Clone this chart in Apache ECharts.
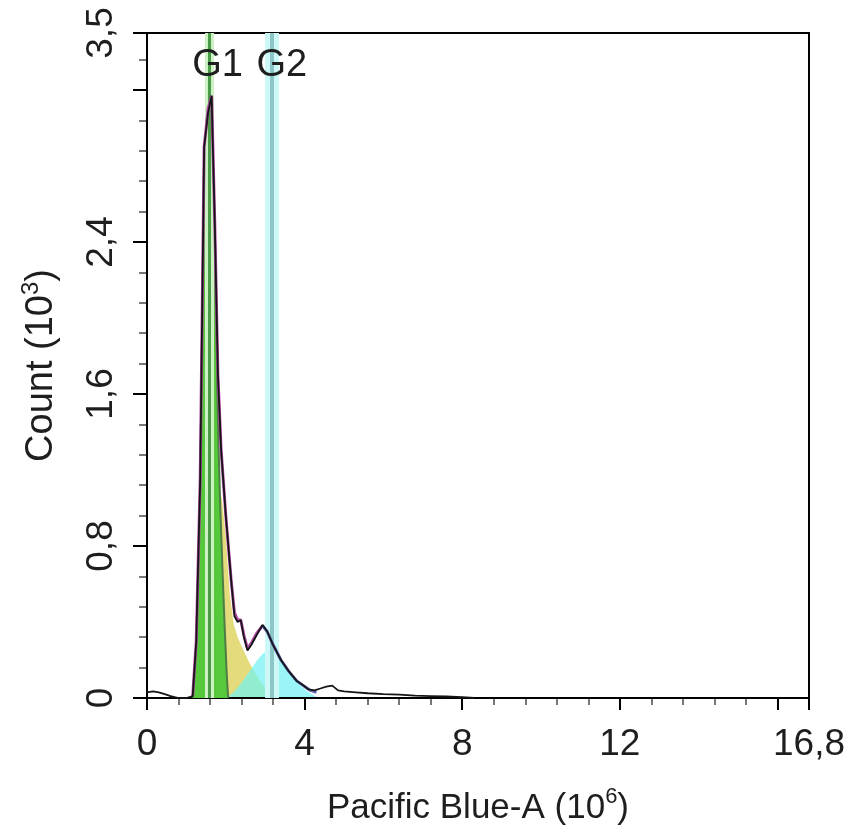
<!DOCTYPE html>
<html><head><meta charset="utf-8">
<script src="https://cdn.jsdelivr.net/npm/echarts@6/dist/echarts.min.js"></script>
<style>html,body{margin:0;padding:0;background:#fff}#c{width:848px;height:834px}</style>
</head><body><div id="c"></div>
<script>
// ---- data (x in 10^6 Pacific Blue-A units, y in 10^3 counts) ----
const xAxisTitle = 'Pacific Blue-A (10';
const xAxisExp = '6';
const yAxisTitle = 'Count (10';
const yAxisExp = '3';
const xMax = 16.8, xMajor = 4, xMinor = 0.8;
const yMax = 3.5, yMajor = 0.8, yMinor = 0.16;
const hiddenXLabels = [16];
const hiddenYLabels = [3.2];

// measured histogram (black outline)
const histogram = [[0,0.03],[0.15,0.035],[0.3,0.03],[0.45,0.02],[0.6,0.01],[0.8,0],[1.0,0],[1.16,0.01],[1.25,0.3],[1.35,1.15],[1.45,2.9],[1.55,3.08],[1.64,3.17],[1.72,2.5],[1.8,1.7],[1.88,1.31],[2.0,0.96],[2.14,0.61],[2.22,0.43],[2.3,0.40],[2.38,0.41],[2.46,0.32],[2.55,0.25],[2.65,0.28],[2.78,0.33],[2.93,0.385],[3.05,0.35],[3.2,0.28],[3.4,0.2],[3.6,0.14],[3.8,0.09],[3.95,0.07],[4.1,0.045],[4.25,0.04],[4.4,0.05],[4.55,0.06],[4.7,0.065],[4.85,0.04],[5.0,0.035],[5.3,0.03],[5.6,0.025],[6.0,0.02],[6.4,0.018],[6.8,0.012],[7.2,0.01],[7.6,0.008],[8.0,0.005],[8.3,0]];
// fitted G1 component (green)
const g1Component = [[1.16,0],[1.25,0.28],[1.35,1.1],[1.45,2.85],[1.55,3.05],[1.63,3.15],[1.72,2.4],[1.8,1.45],[1.86,1.0],[1.92,0.65],[1.97,0.38],[2.02,0.14],[2.06,0]];
// fitted S-phase component (yellow)
const sComponent = [[1.55,0],[1.68,0.7],[1.8,1.1],[1.9,1.05],[2.0,0.85],[2.1,0.55],[2.2,0.39],[2.3,0.32],[2.45,0.25],[2.6,0.185],[2.75,0.13],[2.9,0.08],[3.05,0.045],[3.2,0.02],[3.35,0]];
// fitted G2 component (cyan)
const g2Component = [[2.0,0],[2.2,0.03],[2.4,0.08],[2.6,0.14],[2.8,0.2],[2.95,0.235],[3.1,0.25],[3.25,0.24],[3.4,0.195],[3.6,0.135],[3.8,0.085],[3.95,0.055],[4.1,0.03],[4.25,0.012],[4.4,0]];
// model sum line (magenta) and G2 side of the model (slate)
const fitCurve = [[1.16,0.01],[1.25,0.3],[1.35,1.15],[1.45,2.9],[1.55,3.1],[1.64,3.17],[1.72,2.5],[1.8,1.7],[1.88,1.31],[2.0,0.96],[2.14,0.61],[2.22,0.45],[2.3,0.41],[2.38,0.41],[2.46,0.33],[2.55,0.26],[2.65,0.29],[2.78,0.34],[2.93,0.38]];
const fitTail = [[2.93,0.38],[3.05,0.35],[3.2,0.28],[3.4,0.2],[3.6,0.14],[3.8,0.09],[4.0,0.06],[4.15,0.04],[4.3,0.03]];
// gate markers
const gateNames = ['G1','G2'];
const gatePositions = [1.59, 3.16];
const gateLabelPositions = [[1.79,3.33],[3.42,3.33]];

// ---- chart ----
const FONT = '"Liberation Sans", Arial, sans-serif';
const fmt = v => String(+v.toFixed(2)).replace('.', ',');
const near = (a, b) => Math.abs(a - b) < 1e-6;

const chart = echarts.init(document.getElementById('c'), null, {renderer: 'canvas'});
const option = {
  animation: false,
  backgroundColor: '#fff',
  grid: {left: 147, right: 35, top: 33, bottom: 136, show: true, borderColor: '#000', borderWidth: 2, backgroundColor: 'transparent'},
  xAxis: [{
    type: 'value', min: 0, max: xMax, interval: xMajor, z: 3,
    axisLine: {show: true, onZero: false, lineStyle: {color: '#000', width: 2}},
    axisTick: {show: true, length: 12, lineStyle: {color: '#000', width: 2}},
    splitLine: {show: false},
    axisLabel: {showMaxLabel: true, showMinLabel: true, margin: 28, fontSize: 37, fontFamily: FONT, color: '#1e1e1e',
      formatter: v => hiddenXLabels.some(h => near(h, v)) ? '' : fmt(v)},
    name: '{a|' + xAxisTitle + '}{s|' + xAxisExp + '}{a|)}', nameLocation: 'middle', nameGap: 88,
    nameTextStyle: {rich: {a: {fontSize: 35, fontFamily: FONT, color: '#1e1e1e', lineHeight: 40, verticalAlign: 'bottom'},
                          s: {fontSize: 22, fontFamily: FONT, color: '#1e1e1e', lineHeight: 40, verticalAlign: 'top'}}}
  }, {
    type: 'value', min: 0, max: xMax, interval: xMinor, z: 2, position: 'bottom',
    axisLine: {show: false}, axisLabel: {show: false}, splitLine: {show: false},
    axisTick: {show: true, length: 7, lineStyle: {color: '#777', width: 2}}
  }],
  yAxis: [{
    type: 'value', min: 0, max: yMax, interval: yMajor, z: 3,
    axisLine: {show: true, onZero: false, lineStyle: {color: '#000', width: 2}},
    axisTick: {show: true, length: 14, lineStyle: {color: '#000', width: 2}},
    splitLine: {show: false},
    axisLabel: {showMaxLabel: true, showMinLabel: true, rotate: 90, margin: 27, fontSize: 37, fontFamily: FONT, color: '#1e1e1e',
      formatter: v => hiddenYLabels.some(h => near(h, v)) ? '' : fmt(v)},
    name: '{a|' + yAxisTitle + '}{s|' + yAxisExp + '}{a|)}', nameLocation: 'middle', nameGap: 86, nameRotate: 90,
    nameTextStyle: {rich: {a: {fontSize: 38, fontFamily: FONT, color: '#1e1e1e', lineHeight: 42, verticalAlign: 'bottom'},
                          s: {fontSize: 24, fontFamily: FONT, color: '#1e1e1e', lineHeight: 42, verticalAlign: 'top'}}}
  }, {
    type: 'value', min: 0, max: yMax, interval: yMinor, z: 2, position: 'left',
    axisLine: {show: false}, axisLabel: {show: false}, splitLine: {show: false},
    axisTick: {show: true, length: 8, lineStyle: {color: '#777', width: 2}}
  }],
  series: [
    {name: 'S', type: 'line', data: sComponent, showSymbol: false, z: 2,
     lineStyle: {width: 0}, areaStyle: {color: '#e4dc7c', opacity: 1}},
    {name: 'G2', type: 'line', data: g2Component, showSymbol: false, z: 3,
     lineStyle: {width: 0}, areaStyle: {color: '#6ff2f2', opacity: 0.7}},
    {name: 'G1', type: 'line', data: g1Component, showSymbol: false, z: 4,
     lineStyle: {width: 2, color: '#4e7e46'}, areaStyle: {color: '#56c83c', opacity: 1}},
    {name: 'gateHalo', type: 'line', data: [], z: 5, silent: true,
     markLine: {silent: true, symbol: 'none', label: {show: false}, animation: false,
       data: [{xAxis: gatePositions[0], lineStyle: {color: '#ccf2c4', width: 9, type: 'solid'}},
              {xAxis: gatePositions[1], lineStyle: {color: '#cdf8f8', width: 14, type: 'solid'}}]}},
    {name: 'gateCore', type: 'line', data: [], z: 6, silent: true,
     markLine: {silent: true, symbol: 'none', label: {show: false}, animation: false,
       data: [{xAxis: gatePositions[0], lineStyle: {color: '#4a9a48', width: 3, type: 'solid'}},
              {xAxis: gatePositions[1], lineStyle: {color: '#8cc6c6', width: 4, type: 'solid'}}]}},
    {name: 'fit', type: 'line', data: fitCurve, showSymbol: false, z: 7,
     lineStyle: {width: 3, color: '#b24aa6'}},
    {name: 'fitTail', type: 'line', data: fitTail, showSymbol: false, z: 7,
     lineStyle: {width: 3, color: '#6068b4'}},
    {name: 'data', type: 'line', data: histogram, showSymbol: false, z: 8,
     lineStyle: {width: 1.8, color: '#151515'}},
    {name: 'gateLabels', type: 'scatter', symbolSize: 0, z: 9, silent: true,
     itemStyle: {opacity: 1},
     data: gateLabelPositions.map((p, i) => ({value: p, name: gateNames[i]})),
     label: {show: true, position: 'inside', formatter: p => p.name, fontSize: 38, fontFamily: FONT, color: '#1e1e1e', opacity: 1}}
  ]
};
chart.setOption(option);
</script>
</body></html>
